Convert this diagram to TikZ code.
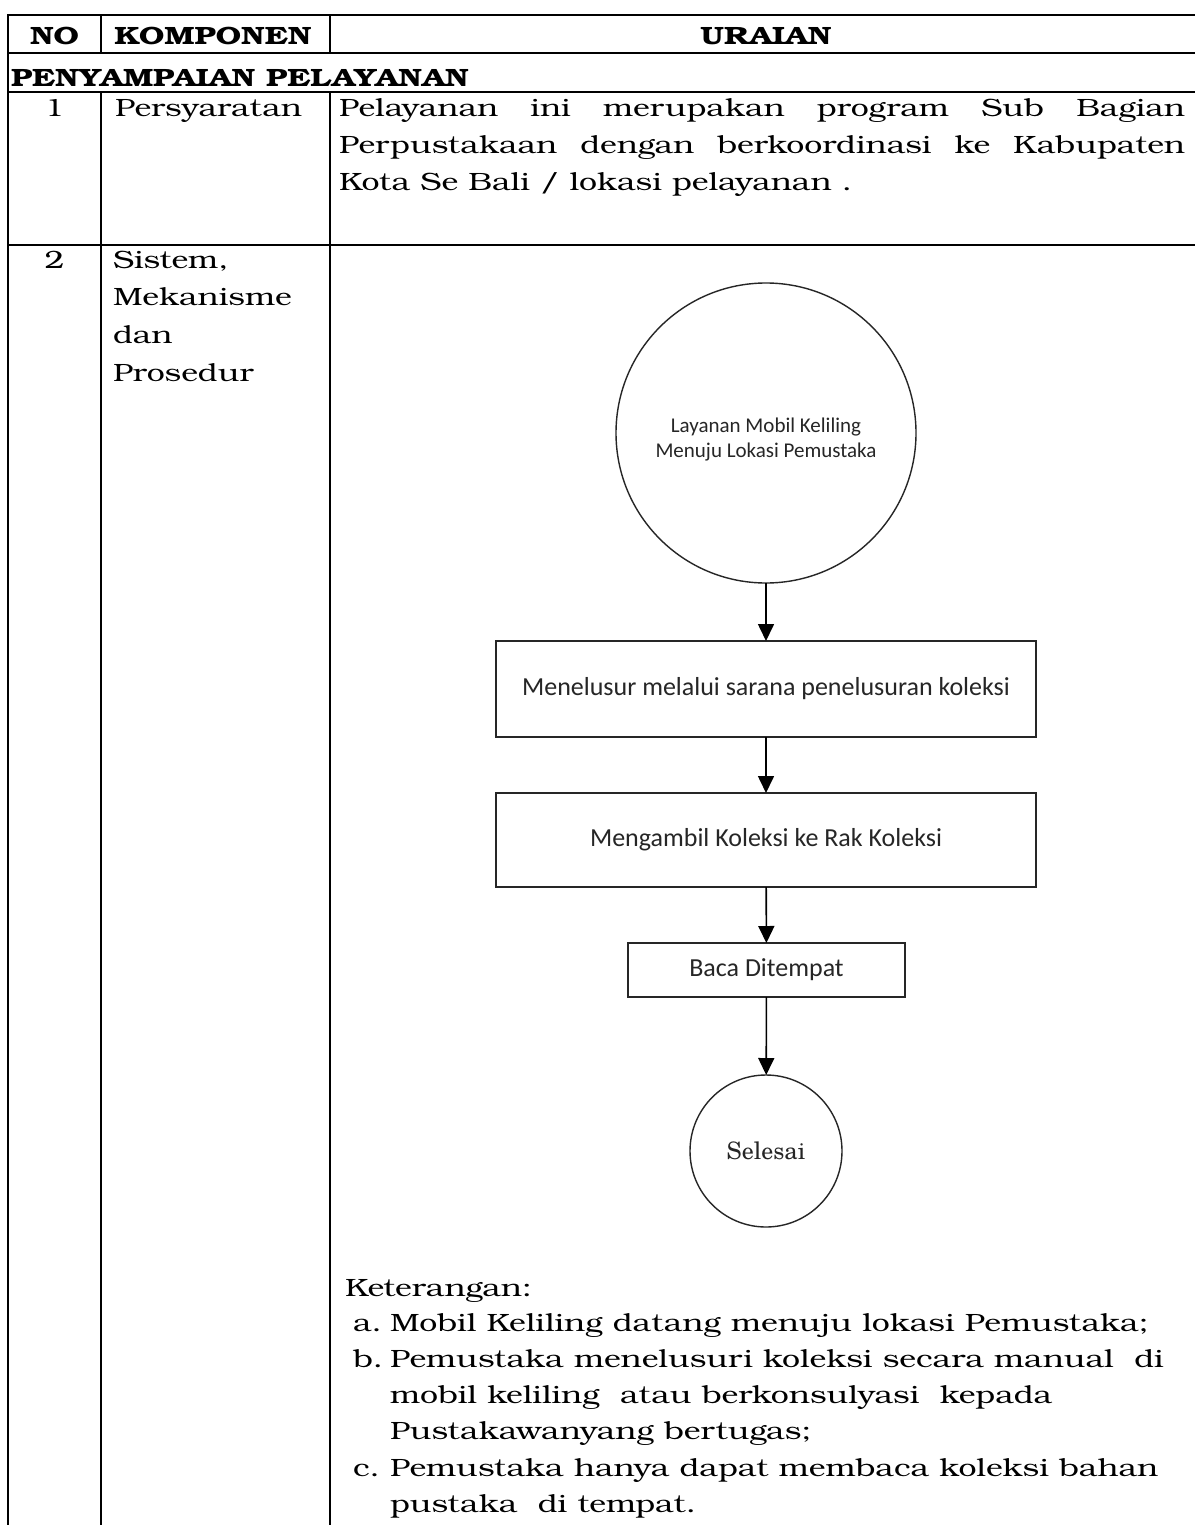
\documentclass[tikz,border=0pt]{standalone}
\usepackage{fontspec}
\usepackage{graphicx}
\usetikzlibrary{arrows.meta}
\newfontfamily\calib{Carlito}
\newfontfamily\bonum{TeX Gyre Bonum}
\newfontfamily\schola{TeX Gyre Schola}
% Bookman-style body face and Century-style face
\newcommand\bkfont{\bonum\fontsize{12.5}{18.5}\selectfont}
\newcommand\scfont{\schola\fontsize{12}{14}\selectfont}
% the body face is set wider than its natural width
\newcommand\wide[1]{\scalebox{1.28}[1]{#1}}

\begin{document}
\begin{tikzpicture}[x=0.5pt,y=-0.5pt,
  rule/.style={line width=1.2pt},
  txt/.style={inner sep=0pt, outer sep=0pt, anchor=base west, font=\bkfont},
  ctxt/.style={inner sep=0pt, outer sep=0pt, anchor=base, font=\bkfont},
  stepbox/.style={draw=black!85, line width=0.75pt, inner sep=0pt, outer sep=0pt,
    font=\calib\fontsize{13}{15}\selectfont, text=black!85},
  endcirc/.style={circle, draw=black!85, line width=0.7pt, inner sep=0pt, outer sep=0pt, text=black!85},
  flow/.style={draw=black, line width=0.8pt, -{Triangle[width=8pt,length=8.5pt]}}]

\useasboundingbox[fill=white] (0,0) rectangle (1194,1525);

% table rules
\draw[rule] (8,1530) -- (8,15) -- (1197,15);
\draw[rule] (8,53) -- (1197,53);
\draw[rule] (8,92) -- (1197,92);
\draw[rule] (8,245) -- (1197,245);
\draw[rule] (101,15) -- (101,53);
\draw[rule] (330,15) -- (330,53);
\draw[rule] (101,92) -- (101,1530);
\draw[rule] (330,92) -- (330,1530);

% header
\node[ctxt] (hno) at (54.5,45) {\wide{\bfseries NO}};
\node[ctxt] (hkomp) at (213,45) {\wide{\bfseries KOMPONEN}};
\node[ctxt] (hurai) at (766,45) {\wide{\bfseries URAIAN}};
\node[txt] (sect) at (11,87) {\wide{\bfseries PENYAMPAIAN PELAYANAN}};

% row 1
\node[ctxt] (n1) at (54.5,117) {\wide{1}};
\node[txt] (k1) at (115,117) {\wide{Persyaratan}};
\node[txt] (u1a) at (339,117) {\wide{\makebox[330.5pt][s]{Pelayanan ini merupakan program Sub Bagian}}};
\node[txt] (u1b) at (339,154) {\wide{\makebox[330.5pt][s]{Perpustakaan dengan berkoordinasi ke Kabupaten}}};
\node[txt] (u1c) at (339,191) {\wide{Kota Se Bali / lokasi pelayanan .}};

% row 2
\node[ctxt] (n2) at (54.5,268) {\wide{2}};
\node[txt] (k2a) at (113,268) {\wide{Sistem,}};
\node[txt] (k2b) at (113,305) {\wide{Mekanisme}};
\node[txt] (k2c) at (113,343) {\wide{dan}};
\node[txt] (k2d) at (113,381) {\wide{Prosedur}};

% flowchart
\node[endcirc, minimum size=150pt] (start) at (766,433) {};
\node[align=center, inner sep=0pt, text=black!85,
  font=\calib\fontsize{10.5}{12.5}\selectfont] (startlbl) at (766,440)
  {Layanan Mobil Keliling\\Menuju Lokasi Pemustaka};
\node[stepbox, minimum width=270pt, minimum height=48pt] (s1) at (766,689)
  {Menelusur melalui sarana penelusuran koleksi};
\node[stepbox, minimum width=270pt, minimum height=47pt] (s2) at (766,840)
  {Mengambil Koleksi ke Rak Koleksi};
\node[stepbox, minimum width=138.5pt, minimum height=27pt] (s3) at (766.5,970)
  {Baca Ditempat};
\node[endcirc, minimum size=76pt, font=\scfont] (fin) at (766,1151) {Selesai};

\draw[flow] (start) -- (s1);
\draw[flow] (s1) -- (s2);
\draw[flow] (s2) -- (s3);
\draw[flow] (s3) -- (fin);

% notes
\node[txt] (ket) at (345,1296) {\wide{Keterangan:}};
\node[txt] (la) at (353,1331) {\wide{a.}};
\node[txt] (ta) at (390,1331) {\wide{Mobil Keliling datang menuju lokasi Pemustaka;}};
\node[txt] (lb) at (353,1367) {\wide{b.}};
\node[txt] (tb1) at (390,1367) {\wide{Pemustaka menelusuri koleksi secara manual\ \ di}};
\node[txt] (tb2) at (390,1403) {\wide{mobil keliling\ \ atau berkonsulyasi\ \ kepada}};
\node[txt] (tb3) at (390,1439) {\wide{Pustakawanyang bertugas;}};
\node[txt] (lc) at (353,1476) {\wide{c.}};
\node[txt] (tc1) at (390,1476) {\wide{Pemustaka hanya dapat membaca koleksi bahan}};
\node[txt] (tc2) at (390,1512) {\wide{pustaka\ \ di tempat.}};
\end{tikzpicture}
\end{document}
